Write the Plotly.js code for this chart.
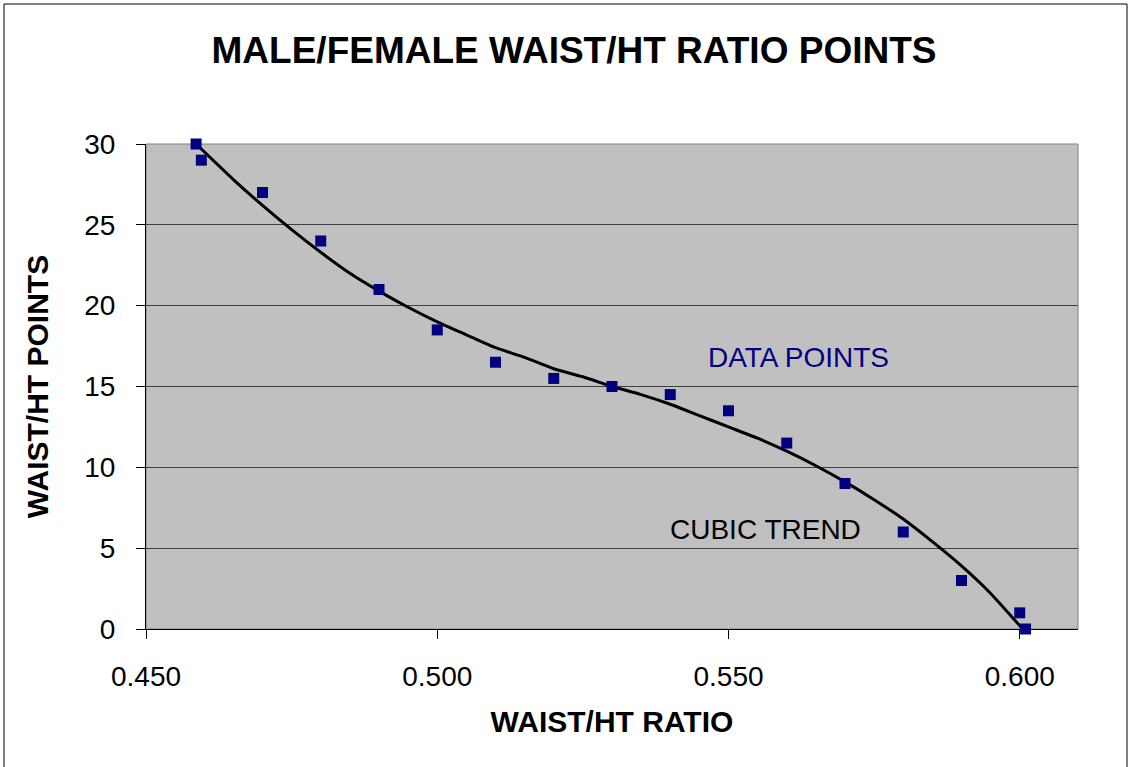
<!DOCTYPE html>
<html>
<head>
<meta charset="utf-8">
<script src="https://cdn.plot.ly/plotly-3.0.1.min.js"></script>
<style>
html,body{margin:0;padding:0;background:#fff;}
#chart{width:1130px;height:767px;}
</style>
</head>
<body>
<div id="chart"></div>
<script>
// Data points
const ratio = [0.4586, 0.4595, 0.470, 0.480, 0.490, 0.500, 0.510, 0.520, 0.530, 0.540, 0.550, 0.560, 0.570, 0.580, 0.590, 0.600, 0.601];
const points = [30, 29, 27, 24, 21, 18.5, 16.5, 15.5, 15, 14.5, 13.5, 11.5, 9, 6, 3, 1, 0];

// Cubic trend line
const trendRatio = [0.4586, 0.465, 0.470, 0.475, 0.480, 0.485, 0.490, 0.495, 0.500, 0.505, 0.510, 0.515, 0.520, 0.525, 0.530, 0.535, 0.540, 0.545, 0.550, 0.555, 0.560, 0.565, 0.570, 0.575, 0.580, 0.585, 0.590, 0.595, 0.6005];
const trendPoints = [30.0, 27.8, 26.2, 24.7, 23.3, 22.0, 20.9, 19.9, 19.0, 18.2, 17.4, 16.8, 16.1, 15.6, 15.0, 14.5, 13.9, 13.2, 12.5, 11.8, 11.0, 10.1, 9.1, 8.0, 6.8, 5.4, 3.9, 2.2, 0.0];

const xTicks = [0.45, 0.50, 0.55, 0.60];
const xTickText = ['0.450', '0.500', '0.550', '0.600'];
const yTicks = [0, 5, 10, 15, 20, 25, 30];

const FONT = '"Liberation Sans", Arial, Helvetica, sans-serif';

const L = 146, R = 1078, T = 144, B = 629;
const PW = R - L, PH = B - T;
function px(x){ return (x - L) / PW; }
function py(y){ return (B - y) / PH; }

const traces = [
  {
    x: trendRatio, y: trendPoints, type: 'scatter', mode: 'lines',
    line: {color: '#000000', width: 3, shape: 'spline', smoothing: 0.6},
    hoverinfo: 'skip', showlegend: false
  },
  {
    x: ratio, y: points, type: 'scatter', mode: 'markers',
    marker: {symbol: 'square', size: 11, color: '#000080', line: {width: 0}},
    showlegend: false, cliponaxis: false
  }
];

const layout = {
  width: 1130, height: 767,
  margin: {l: L, r: 1130 - R, t: T, b: 767 - B, pad: 0},
  paper_bgcolor: '#ffffff',
  plot_bgcolor: '#c0c0c0',
  font: {family: FONT, color: '#000000'},
  title: {
    text: '<b>MALE/FEMALE WAIST/HT RATIO POINTS</b>',
    font: {family: FONT, size: 37, color: '#000000'},
    x: 574 / 1130, xanchor: 'center', xref: 'container',
    y: 1 - 50 / 767, yanchor: 'middle', yref: 'container'
  },
  xaxis: {
    range: [0.45, 0.61],
    tickvals: xTicks, ticktext: xTickText,
    ticks: 'outside', ticklen: 9, tickcolor: '#000000', tickwidth: 1,
    showline: true, linecolor: '#000000', linewidth: 1,
    showgrid: false, zeroline: false,
    tickfont: {family: FONT, size: 28, color: '#000000'},
    ticklabelstandoff: 13,
    title: {text: '<b>WAIST/HT RATIO</b>', font: {family: FONT, size: 30, color: '#000000'}, standoff: 20},
    automargin: false, fixedrange: true
  },
  yaxis: {
    range: [0, 30],
    tickvals: yTicks,
    ticks: 'outside', ticklen: 9, tickcolor: '#000000', tickwidth: 1,
    showline: true, linecolor: '#000000', linewidth: 1,
    showgrid: true, gridcolor: '#404040', gridwidth: 1,
    zeroline: false,
    tickfont: {family: FONT, size: 28, color: '#000000'},
    ticklabelstandoff: 15,
    title: {text: '<b>WAIST/HT POINTS</b>', font: {family: FONT, size: 30, color: '#000000'}, standoff: 26},
    automargin: false, fixedrange: true
  },
  shapes: [
    {type: 'rect', xref: 'paper', yref: 'paper', x0: 0, x1: 1, y0: 0, y1: 1,
     line: {color: '#808080', width: 1}, layer: 'below'},
    {type: 'rect', xref: 'paper', yref: 'paper',
     x0: px(4), x1: px(1127), y0: py(770), y1: py(4),
     line: {color: '#000000', width: 1}, fillcolor: 'rgba(0,0,0,0)', layer: 'above'}
  ],
  annotations: [
    {text: 'DATA POINTS', xref: 'paper', yref: 'paper', x: px(798), y: py(357),
     xanchor: 'center', yanchor: 'middle', showarrow: false,
     font: {family: FONT, size: 28, color: '#000080'}},
    {text: 'CUBIC TREND', xref: 'paper', yref: 'paper', x: px(765), y: py(529),
     xanchor: 'center', yanchor: 'middle', showarrow: false,
     font: {family: FONT, size: 28, color: '#000000'}}
  ]
};

Plotly.newPlot('chart', traces, layout, {displayModeBar: false, staticPlot: true});
</script>
</body>
</html>
